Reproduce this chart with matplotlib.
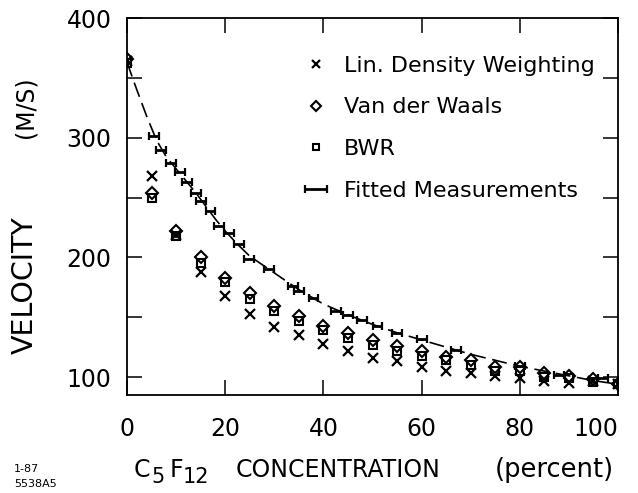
import matplotlib
matplotlib.use("Agg")
import matplotlib.pyplot as plt
from matplotlib.ticker import MultipleLocator

plt.rcParams['font.family'] = ['DejaVu Sans']

# ---- data ----
conc = [0, 5, 10, 15, 20, 25, 30, 35, 40, 45, 50, 55, 60, 65, 70, 75, 80, 85, 90, 95, 100]
lin_density = [364, 268, 219, 188, 168, 153, 142, 135, 128, 122, 116, 113, 108, 105, 103, 101, 99, 97, 95, 97, 94]
van_der_waals = [366, 254, 222, 200, 183, 170, 159, 151, 143, 137, 131, 126, 122, 117, 114, 108, 108, 103, 101, 98, 94]
bwr = [362, 250, 218, 195, 179, 165, 155, 147, 139, 133, 127, 122, 118, 114, 110, 105, 105, 100, 99, 96, 94]

meas_x = [5.5, 7, 9, 10.8, 12.2, 14, 15, 17, 18.7, 20.7, 22.8, 24.9, 29, 33.8, 35, 38, 42.5, 45, 47.8, 51, 55, 60, 67, 80, 88, 97]
meas_y = [301, 290, 279, 271, 263, 254, 247, 239, 226, 220, 211, 199, 190, 176, 172, 166, 155, 152, 148, 143, 137, 132, 123, 109, 102, 99]
meas_xerr = [1.0] * len(meas_x)

fit_x = [0, 2, 4, 6, 8, 10, 12, 14, 16, 18, 20, 22.5, 25, 30, 35, 40, 45, 50, 55, 60, 65, 70, 75, 80, 85, 90, 95, 100]
fit_y = [363, 340, 318, 298, 284, 274, 264, 254, 243, 232, 222, 211, 201, 187, 173, 161, 152, 144, 137, 131, 125, 119, 114, 109, 105, 101, 97, 94]

x_ticks = [0, 20, 40, 60, 80, 100]
y_ticks = [100, 200, 300, 400]

W, H = 638, 493
fig = plt.figure(figsize=(W / 100, H / 100), dpi=100)
ax = fig.add_axes([127 / W, 1 - 395 / H, (618 - 127) / W, (395 - 18) / H])

ax.plot(fit_x, fit_y, color='black', lw=1.2, dashes=(9, 4), zorder=2)
h_meas = ax.errorbar(meas_x, meas_y, xerr=meas_xerr, fmt='none', ecolor='black',
                     elinewidth=2.0, capsize=3, capthick=1.6, zorder=3)
h_lin, = ax.plot(conc, lin_density, ls='none', marker='x', ms=7, mew=1.6, color='black', zorder=4)
h_vdw, = ax.plot(conc, van_der_waals, ls='none', marker='D', ms=6.5, mew=1.5,
                 mfc='none', mec='black', zorder=4)
h_bwr, = ax.plot(conc, bwr, ls='none', marker='s', ms=6, mew=1.5,
                 mfc='none', mec='black', zorder=4)

ax.set_xlim(0, 100)
ax.set_ylim(85, 400)
ax.set_xticks(x_ticks)
ax.set_xticklabels([str(t) for t in x_ticks])
ax.set_yticks(y_ticks)
ax.set_yticklabels([str(t) for t in y_ticks])
ax.yaxis.set_minor_locator(MultipleLocator(50))
ax.tick_params(axis='both', which='both', direction='in', length=11, width=1.1,
               top=True, right=True, labelsize=17)
ax.tick_params(axis='y', which='major', pad=11)
ax.tick_params(axis='x', which='major', pad=16)
ax.tick_params(axis='x', which='minor', bottom=False, top=False)
xl = ax.get_xticklabels()
xl[-1].set_horizontalalignment('right')
for s in ax.spines.values():
    s.set_linewidth(1.3)

leg = ax.legend([h_lin, h_vdw, h_bwr, h_meas],
                ['Lin. Density Weighting', 'Van der Waals', 'BWR', 'Fitted Measurements'],
                loc='upper left', bbox_to_anchor=(298 / W, 1 - 47 / H),
                bbox_transform=fig.transFigure, frameon=False, fontsize=16,
                handlelength=0.8, handletextpad=0.85, labelspacing=0.97,
                markerscale=0.8, borderaxespad=0)

fig.text(25 / W, 1 - 285 / H, 'VELOCITY', rotation=90, ha='center', va='center', fontsize=20.5)
fig.text(25 / W, 1 - 107 / H, '(M/S)', rotation=90, ha='center', va='center', fontsize=17)

yb = 1 - 477 / H
fig.text(134 / W, yb, 'C', ha='left', va='baseline', fontsize=17)
fig.text(151 / W, yb - 6 / H, '5', ha='left', va='baseline', fontsize=15)
fig.text(170 / W, yb, 'F', ha='left', va='baseline', fontsize=17)
fig.text(183 / W, yb - 6 / H, '12', ha='left', va='baseline', fontsize=15)
fig.text(236 / W, yb, 'CONCENTRATION', ha='left', va='baseline', fontsize=17)
fig.text(495 / W, yb, '(percent)', ha='left', va='baseline', fontsize=18.5)

fig.text(14 / W, 1 - 472 / H, '1-87', ha='left', va='baseline', fontsize=8)
fig.text(14 / W, 1 - 487 / H, '5538A5', ha='left', va='baseline', fontsize=8)

fig.savefig('out.png', dpi=100)
